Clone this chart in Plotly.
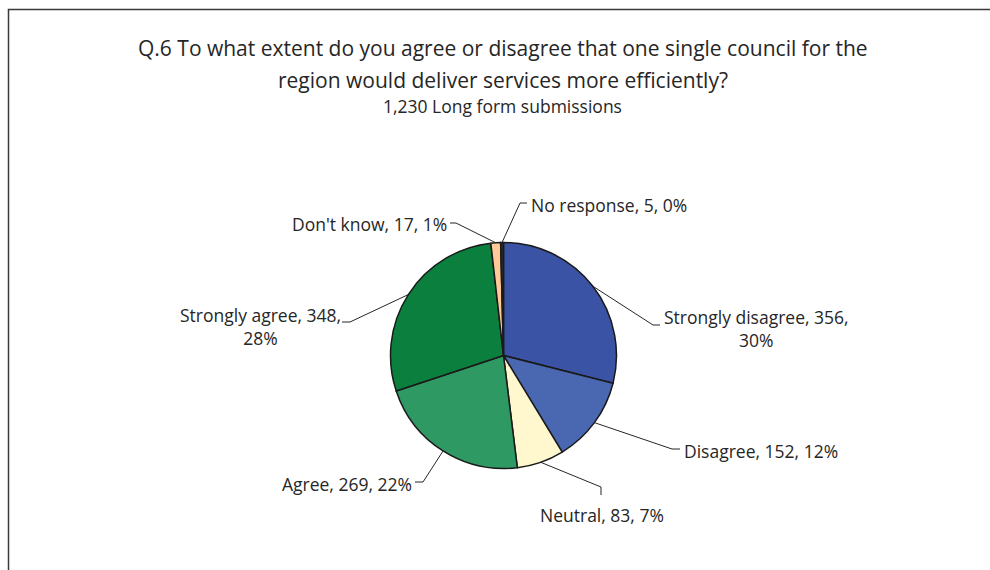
import math
import plotly.graph_objects as go

# Survey responses, in the order the slices run clockwise from 12 o'clock
categories = ["Strongly disagree", "Disagree", "Neutral", "Agree",
              "Strongly agree", "Don't know", "No response"]
counts = [356, 152, 83, 269, 348, 17, 5]
percent_labels = ["30%", "12%", "7%", "22%", "28%", "1%", "0%"]

colors = ["#3A53A4", "#4A68B2", "#FFF8CF", "#2F9963", "#0B7F3E", "#FFCA97", "#2B2B2B"]

W, H = 990, 570
CX, CY, R = 503.5, 355.5, 113.0   # pie centre and radius in pixels

# Label placement: elbow point, line end, text anchor (pixels), anchors, line break
label_layout = {
    "Strongly disagree": dict(elbow=(653, 325), end=(660, 325), text=(662, 328), xa="left", two=True),
    "Disagree":          dict(elbow=(672, 449), end=(680, 449), text=(682, 451), xa="left", two=False),
    "Neutral":           dict(elbow=(601, 487), end=(601, 495), text=(602, 515), xa="center", two=False),
    "Agree":             dict(elbow=(423, 482), end=(415, 482), text=(414, 484), xa="right", two=False),
    "Strongly agree":    dict(elbow=(350, 322), end=(342, 322), text=(260, 326), xa="center", two=True),
    "Don't know":        dict(elbow=(456, 223), end=(450, 223), text=(449, 224), xa="right", two=False),
    "No response":       dict(elbow=(520, 203), end=(527, 203), text=(529, 205), xa="left", two=False),
}

FONT = "Open Sans"
TEXT_COLOR = "#262626"
LABEL_SIZE = 17.5


def px(x, y):
    return x / W, 1 - y / H


fig = go.Figure()
fig.add_trace(go.Pie(
    labels=categories,
    values=counts,
    sort=False,
    direction="clockwise",
    rotation=0,
    textinfo="none",
    hoverinfo="label+value",
    marker=dict(colors=colors, line=dict(color="#1A1A1A", width=1.5)),
    domain=dict(x=[(CX - R) / W, (CX + R) / W], y=[(H - CY - R) / H, (H - CY + R) / H]),
    showlegend=False,
))

shapes = []
annotations = []

total = sum(counts)
cum = 0
for name, val, pct in zip(categories, counts, percent_labels):
    mid = (cum + val / 2) / total * 2 * math.pi
    cum += val
    sx = CX + R * math.sin(mid)
    sy = CY - R * math.cos(mid)
    lay = label_layout[name]
    ex, ey = lay["elbow"]
    fx, fy = lay["end"]
    pts = [px(sx, sy), px(ex, ey), px(fx, fy)]
    path = "M {} {} L {} {} L {} {}".format(*[c for p in pts for c in p])
    shapes.append(dict(type="path", xref="paper", yref="paper", path=path,
                       line=dict(color="#262626", width=1)))
    if lay["two"]:
        text = f"{name}, {val},<br>{pct}"
    else:
        text = f"{name}, {val}, {pct}"
    tx, ty = px(*lay["text"])
    annotations.append(dict(x=tx, y=ty, xref="paper", yref="paper", text=text,
                            showarrow=False, xanchor=lay["xa"], yanchor="middle",
                            align="center",
                            font=dict(family=FONT, size=LABEL_SIZE, color=TEXT_COLOR)))

# Title block
title_lines = [
    ("Q.6 To what extent do you agree or disagree that one single council for the", 48, 21),
    ("region would deliver services more efficiently?", 80, 21),
    ("1,230 Long form submissions", 106, 17.5),
]
for t, y, s in title_lines:
    x0, y0 = px(502.5, y)
    annotations.append(dict(x=x0, y=y0, xref="paper", yref="paper", text=t,
                            showarrow=False, xanchor="center", yanchor="middle",
                            font=dict(family=FONT, size=s, color=TEXT_COLOR)))

# Chart-area frame along the top and left edges
fx0, fy0 = px(8.5, 9.5)
shapes.append(dict(type="path", xref="paper", yref="paper",
                   path=f"M {fx0} 0 L {fx0} {fy0} L 1 {fy0}",
                   line=dict(color="#3A3A3A", width=1.5)))

fig.update_layout(
    width=W, height=H,
    margin=dict(l=0, r=0, t=0, b=0),
    paper_bgcolor="white",
    plot_bgcolor="white",
    shapes=shapes,
    annotations=annotations,
)

fig.write_html("out.html")
